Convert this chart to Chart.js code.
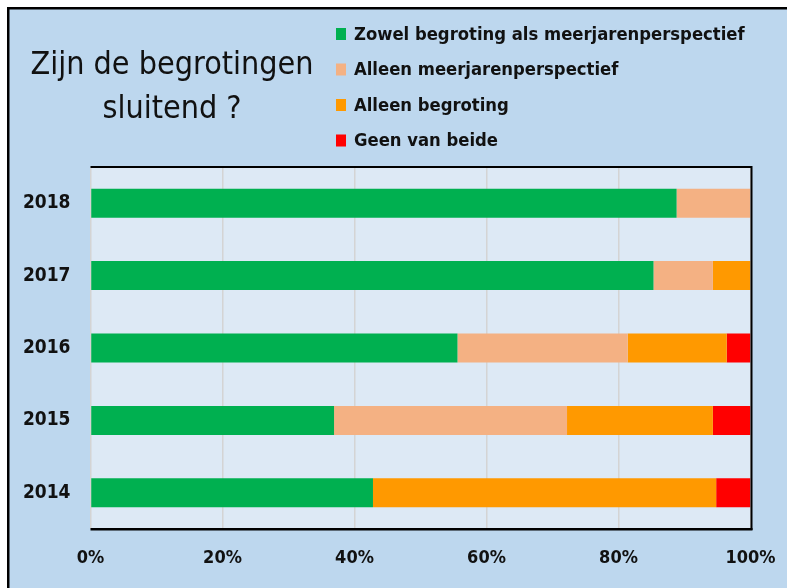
<!DOCTYPE html>
<html>
<head>
<meta charset="utf-8">
<script src="https://cdn.jsdelivr.net/npm/chart.js@4/dist/chart.umd.min.js"></script>
<style>
    html, body { margin: 0; padding: 0; background: #ffffff; }
    #wrap { position: relative; width: 787px; height: 588px; }
</style>
</head>
<body>
<div id="wrap"><canvas id="sluitendChart" width="787" height="588"></canvas></div>
<script>
// Gegevens (aandeel in %)
const jaren = ['2018', '2017', '2016', '2015', '2014'];
const zowelBeide = [88.8, 85.3, 55.6, 36.9, 42.8];
const alleenMeerjaren = [11.2, 9.0, 25.8, 35.3, 0];
const alleenBegroting = [0, 5.7, 15.0, 22.1, 52.0];
const geenVanBeide = [0, 0, 3.6, 5.7, 5.2];

const reeksNamen = [
    'Zowel begroting als meerjarenperspectief',
    'Alleen meerjarenperspectief',
    'Alleen begroting',
    'Geen van beide'
];
const reeksKleuren = ['#00b050', '#f4b183', '#ff9900', '#ff0000'];
const titelRegels = ['Zijn de begrotingen', 'sluitend ?'];

const FONT = '"Liberation Sans Narrow", "DejaVu Sans Condensed", "Liberation Sans", sans-serif';

// Achtergrond, kader, titel en legenda
const decorPlugin = {
    id: 'decor',
    beforeDraw(chart) {
        const ctx = chart.ctx;
        const a = chart.chartArea;
        ctx.save();
        ctx.fillStyle = '#ffffff';
        ctx.fillRect(0, 0, chart.width, chart.height);
        ctx.fillStyle = '#bdd7ee';
        ctx.fillRect(8, 8, chart.width - 8, chart.height - 8);
        ctx.fillStyle = '#000000';
        ctx.fillRect(7, 7, 2.5, chart.height);
        ctx.fillRect(7, 7, chart.width, 2.5);
        ctx.fillStyle = '#dde9f5';
        ctx.fillRect(a.left, a.top, a.right - a.left, a.bottom - a.top);
        ctx.restore();
    },
    afterDraw(chart) {
        const ctx = chart.ctx;
        const a = chart.chartArea;
        ctx.save();
        // kader plotgebied (boven, rechts, onder)
        ctx.fillStyle = '#000000';
        ctx.fillRect(a.left, a.top - 1, a.right - a.left + 1, 2);
        ctx.fillRect(a.right, a.top - 1, 2, a.bottom - a.top + 2);
        ctx.fillRect(a.left, a.bottom - 1, a.right - a.left + 2, 2.5);

        // titel
        ctx.fillStyle = '#111111';
        ctx.font = '32px ' + FONT;
        ctx.textAlign = 'center';
        ctx.textBaseline = 'alphabetic';
        ctx.fillText(titelRegels[0], 172, 74);
        ctx.fillText(titelRegels[1], 172, 118);

        // legenda
        ctx.font = 'bold 18.3px ' + FONT;
        ctx.textAlign = 'left';
        ctx.textBaseline = 'middle';
        chart.data.datasets.forEach((ds, i) => {
            const y = 34 + i * 35.5;
            ctx.fillStyle = ds.backgroundColor;
            ctx.fillRect(336, y - 6, 10, 12);
            ctx.fillStyle = '#111111';
            ctx.fillText(ds.label, 354, y + 1);
        });
        ctx.restore();
    }
};

const reeksen = [zowelBeide, alleenMeerjaren, alleenBegroting, geenVanBeide];

new Chart(document.getElementById('sluitendChart').getContext('2d'), {
    type: 'bar',
    data: {
        labels: jaren,
        datasets: reeksen.map((waarden, i) => ({
            label: reeksNamen[i],
            data: waarden,
            backgroundColor: reeksKleuren[i],
            borderWidth: 0,
            barPercentage: 0.8,
            categoryPercentage: 0.5
        }))
    },
    options: {
        indexAxis: 'y',
        responsive: false,
        animation: false,
        layout: {
            padding: { left: 0, top: 167, right: 36.5, bottom: 0 }
        },
        scales: {
            x: {
                stacked: true,
                min: 0,
                max: 100,
                border: { display: false },
                grid: { color: '#d4d4d4', lineWidth: 1.5, drawTicks: false },
                ticks: {
                    stepSize: 20,
                    padding: 19,
                    color: '#111111',
                    font: { family: FONT, size: 18, weight: 'bold' },
                    callback: (v) => v + '%'
                },
                afterFit(scale) {
                    scale.height = 59;
                    scale.paddingLeft = 0;
                    scale.paddingRight = 0;
                }
            },
            y: {
                stacked: true,
                border: { display: false },
                grid: { display: false, drawTicks: false },
                ticks: {
                    padding: 20,
                    color: '#111111',
                    font: { family: FONT, size: 19, weight: 'bold' }
                },
                afterFit(scale) { scale.width = 90.5; }
            }
        },
        plugins: {
            legend: { display: false },
            tooltip: { enabled: false }
        }
    },
    plugins: [decorPlugin]
});
</script>
</body>
</html>
